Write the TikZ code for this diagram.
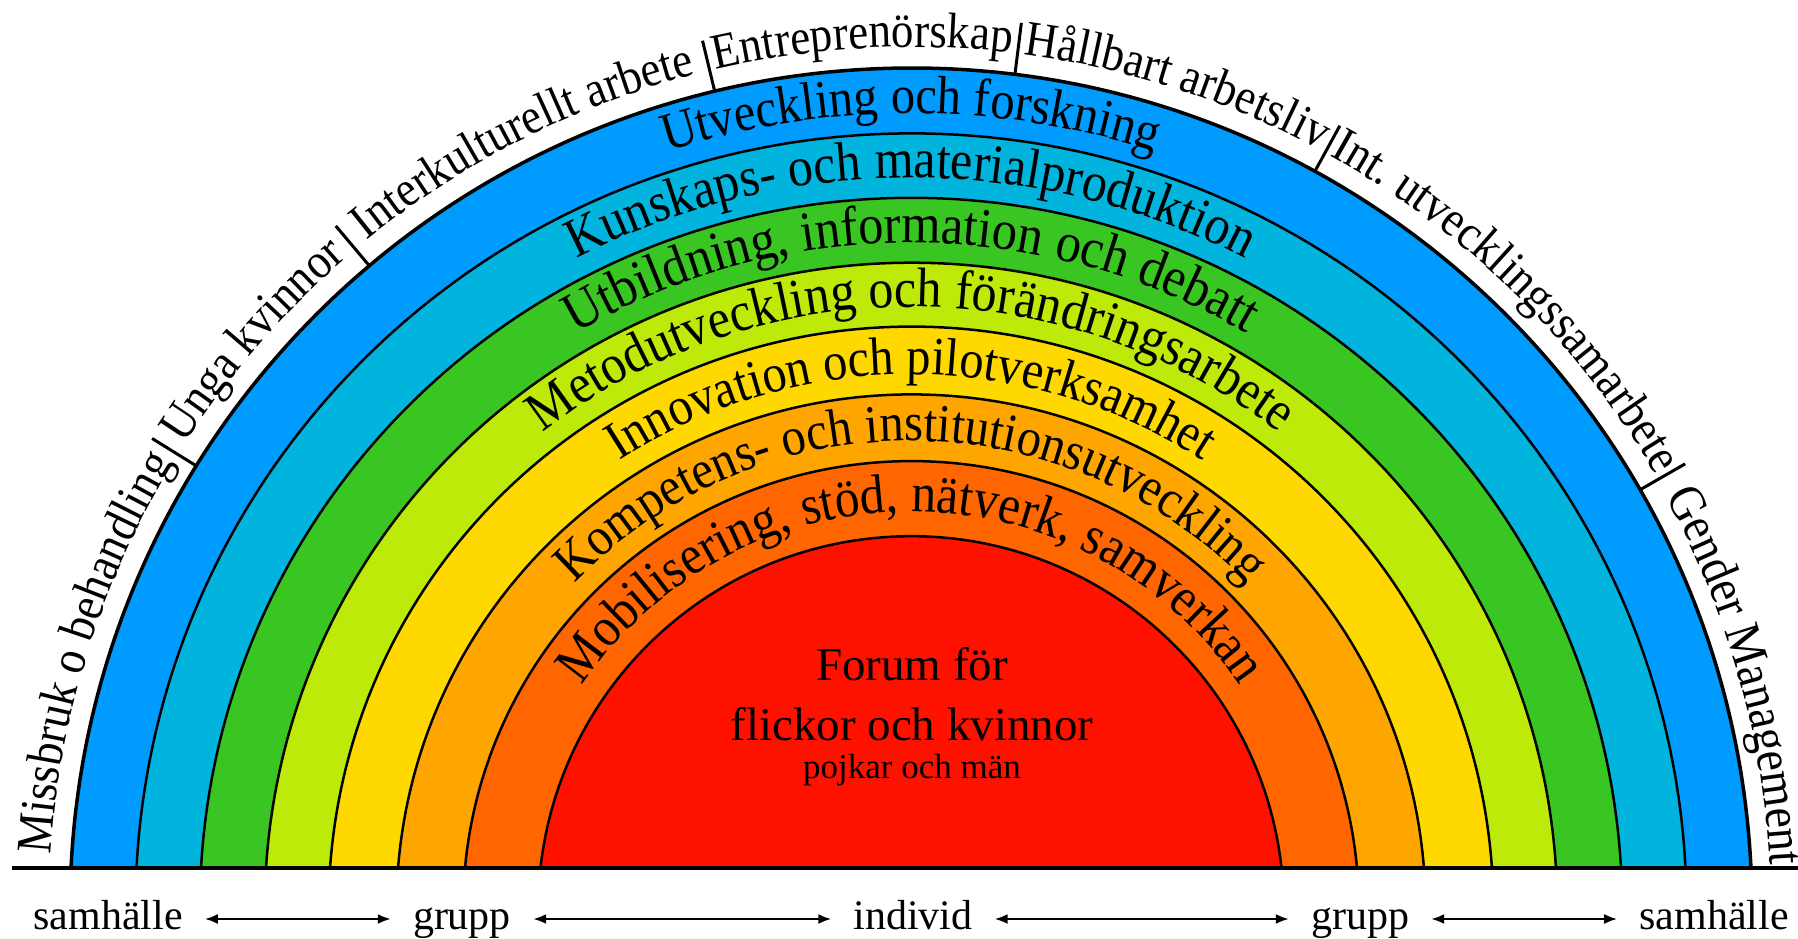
\documentclass[tikz,border=0pt]{standalone}
\usepackage{fontspec}
\setmainfont{Liberation Serif}
\newfontfamily\arcfont[FakeStretch=0.9]{Liberation Serif}
\usetikzlibrary{decorations.text,arrows.meta}
\definecolor{cBlue}{RGB}{0,155,255}
\definecolor{cCyan}{RGB}{0,180,222}
\definecolor{cGreen}{RGB}{58,198,34}
\definecolor{cLime}{RGB}{190,234,10}
\definecolor{cYellow}{RGB}{255,216,0}
\definecolor{cOrange}{RGB}{255,165,0}
\definecolor{cDark}{RGB}{255,102,0}
\definecolor{cRed}{RGB}{255,17,0}
\newcommand\arclabel[5]{\path[decorate,decoration={text along path,text align=center,text={|\arcfont\fontsize{#1}{#1}\selectfont|#5}}] (#3:#2) arc[start angle=#3,end angle=#4,radius=#2];}
\tikzset{
  ringline/.style={line width=2.5pt},
  outerline/.style={line width=3.5pt},
  tickline/.style={line width=3pt},
  groundline/.style={line width=3.5pt},
  bottomlabel/.style={font=\fontsize{42}{50}\selectfont, text height=29pt, text depth=9pt, inner xsep=22pt, inner ysep=0pt, anchor=base},
  centerbig/.style={font=\fontsize{47}{56}\selectfont, anchor=base, inner sep=0pt},
  centersmall/.style={font=\fontsize{35}{42}\selectfont, anchor=base, inner sep=0pt},
  scalearrow/.style={{Latex[length=13pt,width=10pt]}-{Latex[length=13pt,width=10pt]}, line width=2.2pt},
}
\begin{document}
\begin{tikzpicture}[x=1pt,y=1pt]
\useasboundingbox (-911,-29) rectangle (887,909);
\fill[white] (-911,-29) rectangle (887,909);
% ring fills
\foreach \r/\c in {841/cBlue, 775.6/cCyan, 711.2/cGreen, 646.3/cLime, 582.4/cYellow, 514.6/cOrange, 447.9/cDark, 372.8/cRed}{
  \pgfmathsetmacro\a{asin(41/\r)}
  \fill[\c] (\a:\r) arc[start angle=\a, end angle=180-\a, radius=\r] -- cycle;
}
% ring outlines
\foreach \r in {775.6, 711.2, 646.3, 582.4, 514.6, 447.9, 372.8}{
  \pgfmathsetmacro\a{asin(41/\r)}
  \draw[ringline] (\a:\r) arc[start angle=\a, end angle=180-\a, radius=\r];
}
\pgfmathsetmacro\ao{asin(41/841)}
\draw[outerline] (\ao:841) arc[start angle=\ao, end angle=180-\ao, radius=841];
% ground line
\draw[groundline] (-899,41) -- (887,41);
% separators of the outer labels
\foreach \t in {148.2,130.1,103.5,82.9,61.3,29.9}{
  \draw[tickline] (\t:841) -- (\t:893);
}
% outer labels
\arclabel{50}{862}{202.6}{122.6}{Missbruk o behandling}
\arclabel{50}{862}{179.15}{99.15}{Unga kvinnor}
\arclabel{50}{862}{156.8}{76.8}{Interkulturellt arbete}
\arclabel{50}{862}{133.2}{53.2}{Entreprenörskap}
\arclabel{50}{862}{112.1}{32.1}{Hållbart arbetsliv}
\arclabel{50}{862}{85.6}{5.6}{Int. utvecklingssamarbete}
\arclabel{51}{860}{55.8}{-24.2}{Gender Management}
% ring labels
\arclabel{53.9}{795.5}{180}{0}{Utveckling och forskning}
\arclabel{55.6}{731}{180}{0}{Kunskaps- och materialproduktion}
\arclabel{56.1}{666}{180}{0}{Utbildning, information och debatt}
\arclabel{55.6}{602}{180}{0}{Metodutveckling och förändringsarbete}
\arclabel{53.9}{534.5}{180}{0}{Innovation och pilotverksamhet}
\arclabel{53.9}{468}{180}{0}{Kompetens- och institutionsutveckling}
\arclabel{55}{397.5}{180}{0}{Mobilisering, stöd, nätverk, samverkan}
% centre
\node[centerbig] (forumA) at (1,229) {Forum för};
\node[centerbig] (forumB) at (1,169) {flickor och kvinnor};
\node[centersmall] (forumC) at (1,131) {pojkar och män};
% bottom scale
\node[bottomlabel] (samL) at (-803,-20) {samhälle};
\node[bottomlabel] (grpL) at (-449,-20) {grupp};
\node[bottomlabel] (ind) at (2,-20) {individ};
\node[bottomlabel] (grpR) at (449,-20) {grupp};
\node[bottomlabel] (samR) at (803,-20) {samhälle};
\draw[scalearrow] (samL.east) -- (grpL.west);
\draw[scalearrow] (grpL.east) -- (ind.west);
\draw[scalearrow] (ind.east) -- (grpR.west);
\draw[scalearrow] (grpR.east) -- (samR.west);
\end{tikzpicture}
\end{document}
